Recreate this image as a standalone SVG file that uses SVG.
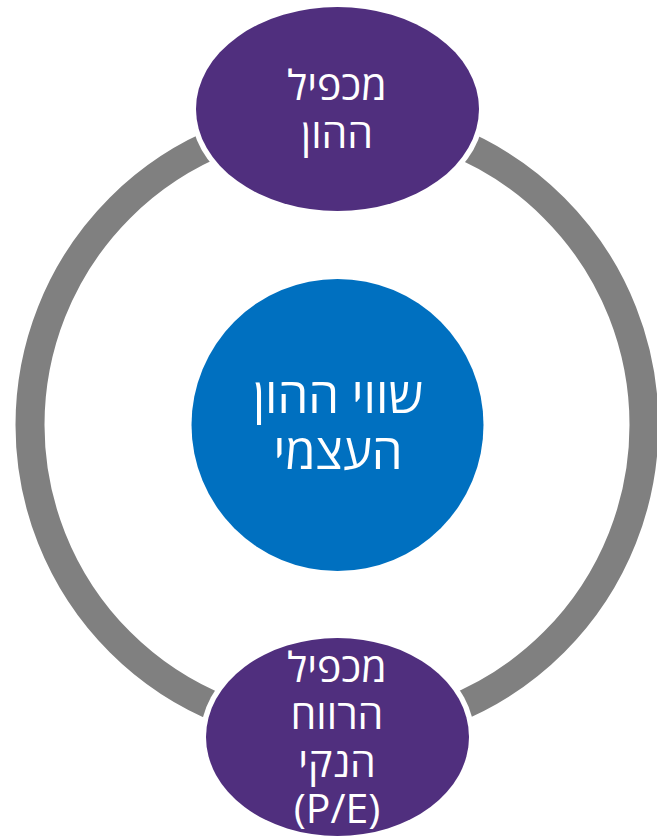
<svg xmlns="http://www.w3.org/2000/svg" width="657" height="840" viewBox="0 0 657 840">
<style>
.t{font-family:"Open Sans","Liberation Sans","DejaVu Sans",sans-serif;fill:#fff;text-anchor:middle;direction:rtl}
.s{font-size:41px}
.b{font-size:49px}
.gap{fill:#fff}
.pur{fill:#502F7E}
</style>
<rect width="657" height="840" fill="#fff"/>
<g id="connectors">
<circle cx="337" cy="425" r="307" fill="none" stroke="#808080" stroke-width="29"/>
</g>
<g id="node-top">
<ellipse class="gap" cx="337.5" cy="109" rx="147" ry="107"/>
<ellipse class="pur" cx="337.5" cy="109" rx="141.5" ry="102"/>
<text class="t s" x="337" y="100">מכפיל</text>
<text class="t s" x="337" y="148">ההון</text>
</g>
<g id="node-center">
<circle cx="337.5" cy="425" r="146" fill="#0070C0"/>
<text class="t b" x="338" y="413">שווי ההון</text>
<text class="t b" x="338" y="469">העצמי</text>
</g>
<g id="node-bottom">
<ellipse class="gap" cx="337.5" cy="737" rx="137" ry="104"/>
<ellipse class="pur" cx="337.5" cy="737" rx="131.5" ry="99"/>
<text class="t s" x="337" y="682">מכפיל</text>
<text class="t s" x="337" y="729">הרווח</text>
<text class="t s" x="337" y="777">הנקי</text>
<text class="t s" x="337" y="823">(P/E)</text>
</g>
</svg>
